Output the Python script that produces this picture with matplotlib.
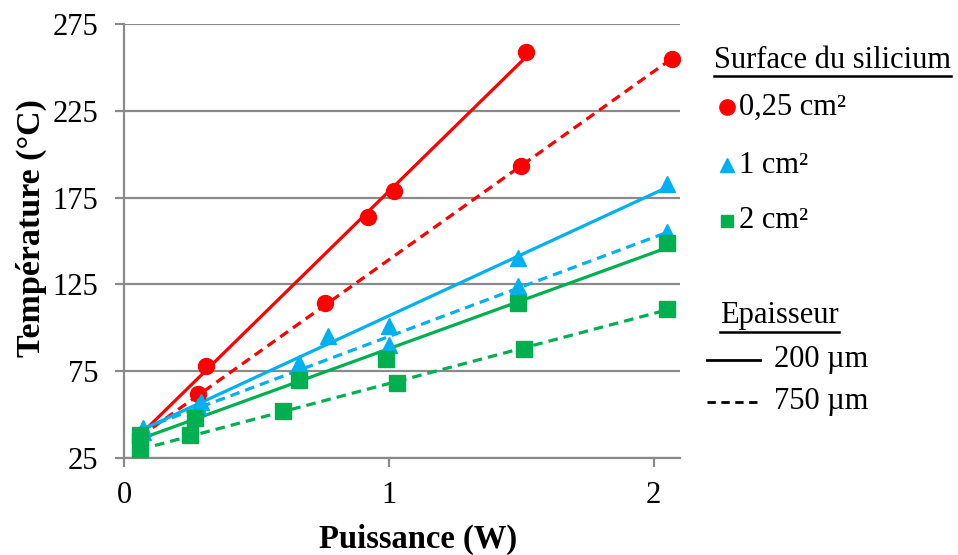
import numpy as np
import matplotlib.pyplot as plt
from matplotlib.lines import Line2D

plt.rcParams['font.family'] = ['Liberation Serif', 'DejaVu Serif']

# data (power in W, temperature in degC)
red_200_x = [0.06, 0.31, 0.92, 1.02, 1.52]
red_200_y = [38, 78, 164, 179, 259]
red_750_x = [0.06, 0.28, 0.76, 1.50, 2.07]
red_750_y = [36, 62, 114, 193, 255]
blue_200_x = [0.07, 0.29, 0.77, 1.00, 1.49, 2.05]
blue_200_y = [42, 57, 95, 101, 140, 183]
blue_750_x = [0.07, 0.28, 0.66, 1.00, 1.49, 2.05]
blue_750_y = [40, 55, 80, 90, 124, 155]
green_200_x = [0.06, 0.27, 0.66, 0.99, 1.49, 2.05]
green_200_y = [38, 48, 70, 82, 114, 149]
green_750_x = [0.06, 0.25, 0.60, 1.03, 1.51, 2.05]
green_750_y = [30, 38, 52, 68, 88, 111]

surface_labels = ['0,25 cm²', '1 cm²', '2 cm²']
thickness_labels = ['200 µm', '750 µm']
y_ticks = [25, 75, 125, 175, 225, 275]
x_ticks = [0, 1, 2]

RED, BLUE, GREEN = '#FF0000', '#00B0F0', '#00B050'
GRID = '#8a8a8a'

series = [
    (red_200_x, red_200_y, RED, 'o', 11.5, '-'),
    (red_750_x, red_750_y, RED, 'o', 11.5, '--'),
    (blue_200_x, blue_200_y, BLUE, '^', 12, '-'),
    (blue_750_x, blue_750_y, BLUE, '^', 12, '--'),
    (green_200_x, green_200_y, GREEN, 's', 12, '-'),
    (green_750_x, green_750_y, GREEN, 's', 12, '--'),
]

fig = plt.figure(figsize=(9.58, 5.55), dpi=100)
ax = fig.add_axes([124/958, 1-458/555, (680-124)/958, (458-24)/555])

for x, y, col, mk, ms, ls in series:
    x = np.array(x); y = np.array(y)
    # linear trendline between the first and last point
    a, b = np.polyfit(x, y, 1)
    xt = np.array([x.min(), x.max()])
    ln, = ax.plot(xt, a*xt + b, color=col, lw=2.3, zorder=3)
    if ls == '--':
        ln.set_dashes([3.0, 1.9])
    ax.plot(x, y, linestyle='none', marker=mk, color=col, ms=ms, mec=col, zorder=4)

ax.set_xlim(0, 2.1)
ax.set_ylim(25, 275)
ax.set_yticks(y_ticks)
ax.set_xticks(x_ticks)
ax.grid(axis='y', color=GRID, lw=1.6, zorder=0)
for s in ['top', 'right']:
    ax.spines[s].set_visible(False)
for s in ['left', 'bottom']:
    ax.spines[s].set_color(GRID)
    ax.spines[s].set_linewidth(1.6)
ax.tick_params(colors=GRID, width=1.6, length=6.5, labelsize=22, labelcolor='black')
ax.tick_params(axis='y', pad=12)
ax.tick_params(axis='x', pad=10)
ax.set_xlabel('Puissance (W)', fontsize=23.5, fontweight='bold')
ax.set_ylabel('Température (°C)', fontsize=24.5, fontweight='bold')
ax.xaxis.set_label_coords(0.529, -0.152)
ax.yaxis.set_label_coords(-0.139, 0.53)

# custom legend, drawn in figure pixels
def fx(px):
    return px/958
def fy(py):
    return 1 - py/555

def underlined(x, y, text):
    t = fig.text(fx(x), fy(y), text, fontsize=22, va='center', ha='left')
    fig.canvas.draw()
    bb = t.get_window_extent().transformed(fig.transFigure.inverted())
    fig.add_artist(Line2D([bb.x0, bb.x1], [bb.y0 - 0.002, bb.y0 - 0.002],
                          transform=fig.transFigure, color='black', lw=1.8))

underlined(714, 60, 'Surface du silicium')
for (py, col, mk, ms), lab in zip([(107, RED, 'o', 11), (165, BLUE, '^', 9.5), (221, GREEN, 's', 9)],
                                  surface_labels):
    fig.add_artist(Line2D([fx(727)], [fy(py)], transform=fig.transFigure, marker=mk,
                          color=col, ms=ms, linestyle='none'))
    fig.text(fx(739), fy(py), lab, fontsize=22, va='center', ha='left')

underlined(720, 316, 'Epaisseur')
for (py, ls), lab in zip([(360, '-'), (402, '--')], thickness_labels):
    ln = Line2D([fx(707), fx(760)], [fy(py), fy(py)], transform=fig.transFigure,
                color='black', lw=2)
    if ls == '--':
        ln.set_dashes([3, 2])
    fig.add_artist(ln)
    fig.text(fx(774), fy(py), lab, fontsize=22, va='center', ha='left')

fig.savefig('out.png', dpi=100)
